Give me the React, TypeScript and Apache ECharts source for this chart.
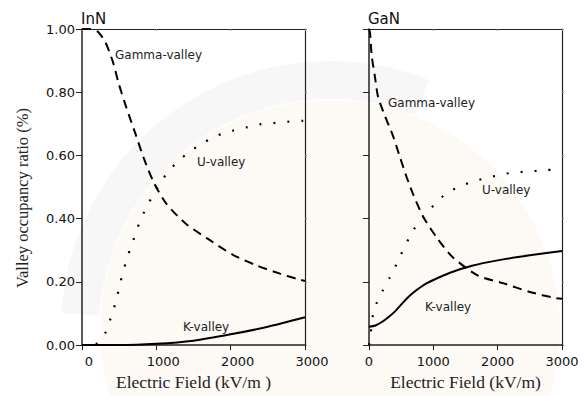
import React, { useEffect, useRef } from "react";
import * as echarts from "echarts";

// ---- Data (Electric field kV/m, occupancy ratio) ----
const xTicks = [0, 1000, 2000, 3000];
const yTicks = [0, 0.2, 0.4, 0.6, 0.8, 1.0];

const innGammaE = [0, 120, 220, 317, 417, 493, 600, 720, 836, 971, 1139, 1397, 1700, 2035, 2350, 2664, 2910, 3000];
const innGammaV = [1.0, 1.0, 0.99, 0.957, 0.895, 0.828, 0.749, 0.668, 0.588, 0.512, 0.446, 0.384, 0.335, 0.285, 0.252, 0.226, 0.208, 0.203];

const innUE = [0, 150, 197, 323, 377, 430, 475, 511, 556, 601, 655, 713, 771, 838, 924, 1020, 1126, 1274, 1462, 1646, 1834, 2027, 2215, 2408, 2601, 2789, 3000];
const innUV = [0, 0, 0.005, 0.042, 0.079, 0.117, 0.156, 0.195, 0.233, 0.272, 0.308, 0.347, 0.386, 0.422, 0.461, 0.5, 0.538, 0.578, 0.614, 0.642, 0.664, 0.678, 0.689, 0.699, 0.703, 0.707, 0.71];

const innKE = [0, 500, 1000, 1500, 2000, 2500, 3000];
const innKV = [0, 0.0, 0.004, 0.014, 0.034, 0.058, 0.088];

const ganGammaE = [0, 16, 42, 93, 140, 249, 373, 482, 586, 690, 840, 1057, 1306, 1695, 2083, 2503, 2892, 3000];
const ganGammaV = [1.0, 0.988, 0.915, 0.848, 0.786, 0.724, 0.662, 0.594, 0.531, 0.475, 0.407, 0.339, 0.277, 0.22, 0.196, 0.168, 0.149, 0.147];

const ganUE = [0, 20, 62, 119, 212, 315, 409, 498, 586, 690, 840, 1000, 1202, 1435, 1643, 1877, 2083, 2317, 2529, 2763, 3000];
const ganUV = [0, 0.025, 0.096, 0.133, 0.172, 0.211, 0.248, 0.287, 0.324, 0.364, 0.405, 0.441, 0.48, 0.504, 0.519, 0.531, 0.541, 0.547, 0.55, 0.554, 0.556];

const ganKE = [0, 100, 200, 300, 400, 500, 600, 700, 800, 900, 1000, 1250, 1600, 2000, 2500, 3000];
const ganKV = [0.058, 0.062, 0.073, 0.088, 0.106, 0.128, 0.15, 0.168, 0.183, 0.196, 0.206, 0.228, 0.251, 0.268, 0.284, 0.298];

const panelTitles = ["InN", "GaN"];
const xTitles = ["Electric Field (kV/m )", "Electric Field (kV/m)"];
const yTitle = "Valley occupancy ratio (%)";
const curveLabels = ["Gamma-valley", "U-valley", "K-valley"];

const zip = (a: number[], b: number[]) => a.map((v, i) => [v, b[i]]);

const SANS = "DejaVu Sans";
const SERIF = "Liberation Serif";
const AX = "#222";

export default function App() {
  const ref = useRef<HTMLDivElement>(null);
  useEffect(() => {
    if (!ref.current) return;
    const chart = echarts.init(ref.current, null, { renderer: "svg" });

    const baseX = (gridIndex: number, leftPad: number, name: string) => ({
      type: "value",
      gridIndex,
      min: 0,
      max: 3000,
      interval: 1000,
      name,
      nameLocation: "middle",
      nameGap: 26,
      nameTextStyle: { fontFamily: SERIF, fontSize: 17.5, color: AX },
      axisLine: { show: true, onZero: false, lineStyle: { color: AX, width: 1.5 } },
      axisTick: { show: true, length: 5, lineStyle: { color: AX, width: 1 } },
      axisLabel: {
        fontFamily: SANS,
        fontSize: 13,
        color: "#111",
        margin: 10,
        padding: [0, 0, 0, leftPad],
        formatter: (v: number) => String(v),
      },
      splitLine: { show: false },
    });
    const topX = (gridIndex: number) => ({
      type: "value",
      gridIndex,
      position: "top",
      min: 0,
      max: 3000,
      interval: 1000,
      axisLine: { show: true, onZero: false, lineStyle: { color: AX, width: 1.2 } },
      axisTick: { show: true, inside: true, length: 2, lineStyle: { color: "#888" } },
      axisLabel: { show: false },
      splitLine: { show: false },
    });
    const leftY = (gridIndex: number, labels: boolean, name: string) => ({
      type: "value",
      gridIndex,
      min: 0,
      max: 1,
      interval: 0.2,
      name,
      nameLocation: "middle",
      nameGap: 51,
      nameTextStyle: { fontFamily: SERIF, fontSize: 16.5, color: AX, padding: [0, 22, 0, 0] },
      axisLine: { show: true, onZero: false, lineStyle: { color: AX, width: 1.5 } },
      axisTick: { show: true, length: 6, lineStyle: { color: AX, width: 1 } },
      axisLabel: {
        show: labels,
        fontFamily: SANS,
        fontSize: 13,
        color: "#111",
        margin: 7,
        formatter: (v: number) => v.toFixed(2),
      },
      splitLine: { show: false },
    });
    const rightY = (gridIndex: number) => ({
      type: "value",
      gridIndex,
      position: "right",
      min: 0,
      max: 1,
      interval: 0.2,
      axisLine: { show: true, onZero: false, lineStyle: { color: AX, width: 1.2 } },
      axisTick: { show: true, length: 2, lineStyle: { color: "#888" } },
      axisLabel: { show: false },
      splitLine: { show: false },
    });

    const line = (data: number[][], xi: number, yi: number, kind: "dash" | "dot" | "solid") => ({
      type: "line",
      xAxisIndex: xi,
      yAxisIndex: yi,
      data,
      showSymbol: false,
      smooth: 0.25,
      silent: true,
      lineStyle: {
        color: "#000",
        width: kind === "dot" ? 2.2 : 2,
        type: kind === "dash" ? [9, 6] : kind === "dot" ? [2, 12] : "solid",
        cap: "butt",
      },
      z: 5,
    });

    const label = (text: string, x: number, y: number) => ({
      type: "text",
      x,
      y,
      z: 10,
      style: { text, fill: "#222", fontFamily: SANS, fontSize: 12, verticalAlign: "middle", align: "left" },
    });

    chart.setOption({
      animation: false,
      backgroundColor: "#fff",
      grid: [
        { left: 82, top: 29, width: 223, height: 322 },
        { left: 369, top: 29, width: 193, height: 322 },
      ],
      xAxis: [baseX(0, 14, xTitles[0]), baseX(1, 0, xTitles[1]), topX(0), topX(1)],
      yAxis: [leftY(0, true, yTitle), leftY(1, false, ""), rightY(0), rightY(1)],
      series: [
        line(zip(innGammaE, innGammaV), 0, 0, "dash"),
        line(zip(innUE, innUV), 0, 0, "dot"),
        line(zip(innKE, innKV), 0, 0, "solid"),
        line(zip(ganGammaE, ganGammaV), 1, 1, "dash"),
        line(zip(ganUE, ganUV), 1, 1, "dot"),
        line(zip(ganKE, ganKV), 1, 1, "solid"),
      ],
      graphic: [
        {
          type: "circle",
          z: -11,
          silent: true,
          shape: { cx: 330, cy: 330, r: 230 },
          style: { fill: "rgba(248,240,225,0.3)" },
        },
        {
          type: "arc",
          z: -10,
          silent: true,
          shape: { cx: 330, cy: 330, r: 250, startAngle: Math.PI * 1.02, endAngle: Math.PI * 1.62 },
          style: { stroke: "rgba(150,145,140,0.07)", lineWidth: 38, fill: "none" },
        },
        {
          type: "text",
          x: 81,
          y: 18.5,
          z: 10,
          style: { text: panelTitles[0], fill: "#111", fontFamily: SANS, fontSize: 15, verticalAlign: "middle" },
        },
        {
          type: "text",
          x: 368,
          y: 18.5,
          z: 10,
          style: { text: panelTitles[1], fill: "#111", fontFamily: SANS, fontSize: 15, verticalAlign: "middle" },
        },
        label(curveLabels[0], 115, 55),
        label(curveLabels[1], 197, 162),
        label(curveLabels[2], 183, 327),
        label(curveLabels[0], 388, 103),
        label(curveLabels[1], 482, 190),
        label(curveLabels[2], 425, 307),
      ],
    });
    return () => chart.dispose();
  }, []);
  return <div ref={ref} style={{ width: 587, height: 396, position: "absolute", left: 0, top: 0 }} />;
}
